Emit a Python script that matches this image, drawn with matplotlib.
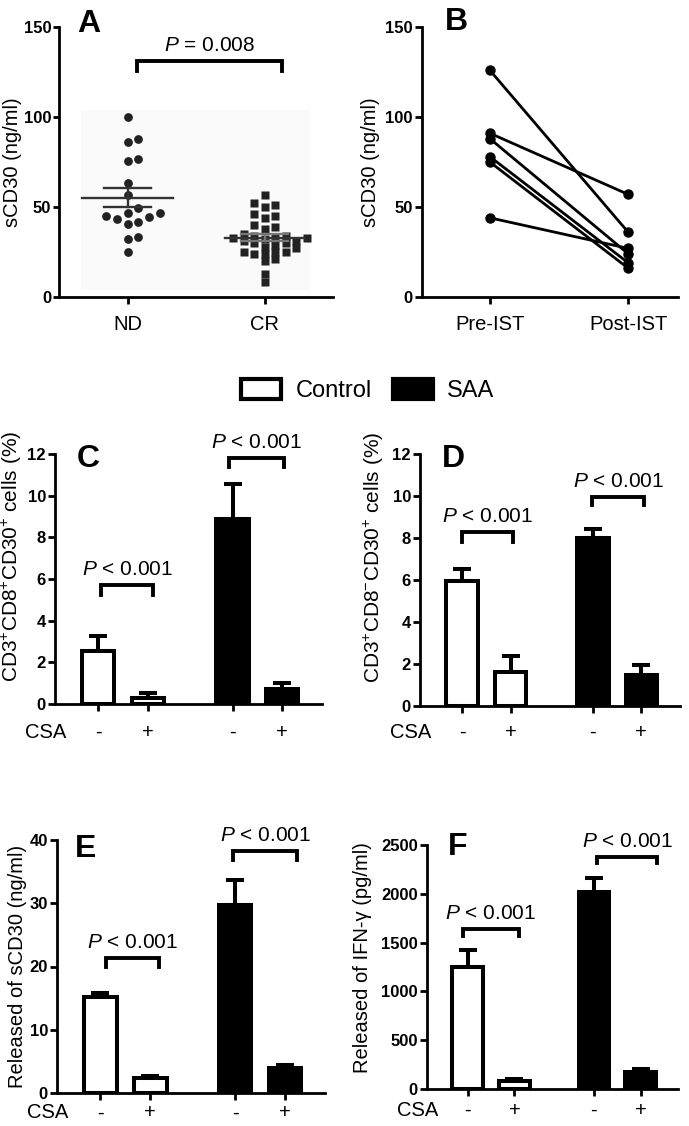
import numpy as np
import matplotlib
matplotlib.use('Agg')
import matplotlib.pyplot as plt
from matplotlib.patches import Patch, Rectangle

plt.rcParams['font.family'] = ['Liberation Sans', 'DejaVu Sans']
plt.rcParams['mathtext.fontset'] = 'custom'
plt.rcParams['mathtext.rm'] = 'Liberation Sans'
plt.rcParams['mathtext.it'] = 'Liberation Sans:italic'
plt.rcParams['mathtext.bf'] = 'Liberation Sans:bold'
plt.rcParams['axes.linewidth'] = 2

# === Data ====================================================================
# Panel A: sCD30 in newly diagnosed (ND) and complete response (CR) patients
nd_vals = [100, 87.8, 86.3, 76.7, 75.6, 63.2, 56.7, 49.3, 46.5, 46.5, 45.0,
           44.3, 43.3, 41.9, 40.6, 33.2, 32.1, 25.2]
cr_vals = [56.5, 52, 50, 51, 46, 44, 45, 40, 38, 39, 34, 33, 35, 34, 33, 33,
           32, 31, 31, 30, 30, 29, 28, 27, 25, 25, 24, 25, 24, 21, 20, 13, 8.5]
a_groups = ['ND', 'CR']

# Panel B: paired sCD30 before / after IST
pre_ist = [126, 91, 88, 78, 75, 44]
post_ist = [36, 57, 24, 19, 16, 27]
b_groups = ['Pre-IST', 'Post-IST']

# Panels C-F: Control (-/+ CSA), SAA (-/+ CSA)
csa_labels = ['-', '+', '-', '+']
bar_group = ['Control', 'Control', 'SAA', 'SAA']
c_mean = [2.55, 0.28, 8.86, 0.72]
c_err = [0.72, 0.25, 1.68, 0.30]
d_mean = [5.95, 1.62, 8.0, 1.49]
d_err = [0.57, 0.76, 0.41, 0.48]
e_mean = [15.2, 2.3, 29.8, 3.95]
e_err = [0.65, 0.4, 3.8, 0.5]
f_mean = [1245, 80, 2015, 175]
f_err = [175, 25, 150, 30]

p_a = '$P$ = 0.008'
p_bar = '$P$ < 0.001'

# =============================================================================
W, H = 689, 1126
fig = plt.figure(figsize=(W / 100, H / 100), dpi=100)


def px_axes(l, r, t, b):
    return fig.add_axes([l / W, 1 - b / H, (r - l) / W, (b - t) / H])


def style(ax, ylabel, lab_x, lab_y, letter, let_x, let_y, lab_size=14.5):
    for s in ['top', 'right']:
        ax.spines[s].set_visible(False)
    ax.tick_params(axis='both', width=2, length=5, labelsize=12, pad=1.5)
    for lbl in ax.get_yticklabels():
        lbl.set_fontweight('bold')
    ax.set_ylabel(ylabel, fontsize=lab_size)
    ax.yaxis.set_label_coords(lab_x, lab_y)
    ax.text(let_x, let_y, letter, transform=ax.transAxes, fontsize=23,
            fontweight='bold', ha='left', va='baseline')


def bracket(ax, x0, x1, ytop, ybot, txt):
    ax.plot([x0, x0, x1, x1], [ybot, ytop, ytop, ybot], color='black',
            lw=2.8, solid_joinstyle='miter', clip_on=False)
    ax.annotate(txt, xy=((x0 + x1) / 2, ytop), xytext=(0, 10),
                textcoords='offset pixels', ha='center', va='baseline',
                fontsize=15)


def swarm(vals, px_x, px_y, diam, step):
    vals = np.asarray(vals, float)
    offs = np.zeros(len(vals))
    placed = []
    cands = [0]
    for j in range(1, 20):
        cands += [j, -j]
    for i in np.argsort(vals):
        y = vals[i]
        for c in cands:
            x = c * step
            if all(np.hypot((x - px) * px_x, (y - py) * px_y) >= diam
                   for px, py in placed):
                break
        placed.append((x, y))
        offs[i] = x
    return offs


# --- Panel A -----------------------------------------------------------------
axA = px_axes(59, 333, 27, 297)
axA.add_patch(Rectangle((-0.34, 4), 1.67, 100, color='#fafafa', lw=0, zorder=0))
sx, sy = 137, 1.8
swarm_opts = [(nd_vals, 'o', 6.3, 10, 10.8), (cr_vals, 's', 5.6, 6.5, 10.5)]
for k, (vals, mk, ms, diam, step) in enumerate(swarm_opts):
    offs = swarm(vals, sx, sy, diam, step / sx)
    axA.plot(k + offs, vals, linestyle='none', marker=mk, ms=ms,
             color='#222222', mec='none', zorder=2)
    m = np.mean(vals)
    sem = np.std(vals, ddof=1) / np.sqrt(len(vals))
    hw = 0.33 if k == 0 else 0.29
    axA.plot([k - hw, k + hw], [m, m], color='#333333', lw=1.7, zorder=3)
    ecol = '#333333' if k == 0 else '#777777'
    axA.plot([k - 0.17, k + 0.17], [m + sem, m + sem], color=ecol, lw=1.7, zorder=3)
    axA.plot([k - 0.17, k + 0.17], [m - sem, m - sem], color=ecol, lw=1.7, zorder=3)
    axA.plot([k, k], [m - sem, m + sem], color=ecol, lw=1.7, zorder=3)
axA.set_xlim(-0.5, 1.5)
axA.set_ylim(0, 150)
axA.set_yticks([0, 50, 100, 150])
axA.set_xticks([0, 1])
axA.set_xticklabels(a_groups)
style(axA, 'sCD30 (ng/ml)', -0.135, 0.5, 'A', 0.066, 0.981)
axA.tick_params(axis='x', labelsize=14.5, pad=8)
axA.tick_params(axis='y', length=4)
bracket(axA, 0.07, 1.13, 131, 125.5, p_a)

# --- Panel B -----------------------------------------------------------------
axB = px_axes(422, 678, 27, 297)
for a, b in zip(pre_ist, post_ist):
    axB.plot([0, 1], [a, b], '-o', color='black', lw=2, ms=6.5)
axB.set_xlim(-0.49, 1.36)
axB.set_ylim(0, 150)
axB.set_yticks([0, 50, 100, 150])
axB.set_xticks([0, 1])
axB.set_xticklabels(b_groups)
style(axB, 'sCD30 (ng/ml)', -0.164, 0.5, 'B', 0.09, 0.989)
axB.tick_params(axis='x', labelsize=14.5, pad=8)

# --- Legend ------------------------------------------------------------------
handles = [Patch(facecolor='white', edgecolor='black', linewidth=3, label='Control'),
           Patch(facecolor='black', edgecolor='black', linewidth=3, label='SAA')]
fig.legend(handles=handles, loc='center', bbox_to_anchor=(0.534, 0.653),
           ncol=2, frameon=False, fontsize=17, handlelength=1.7,
           handleheight=0.9, handletextpad=0.6, columnspacing=0.9)

# --- Panels C-F ----------------------------------------------------------------
pos = [0, 1, 2.7, 3.7]
colors = ['white' if g == 'Control' else 'black' for g in bar_group]

panels = [
    # box (l, r, t, b), means, errs, ylim, yticks, ylabel, label coords, letter pos, brackets, csa offset, label size
    ((55, 322, 454, 704), c_mean, c_err, 12, np.arange(0, 13, 2),
     r'CD3$^{+}$CD8$^{+}$CD30$^{+}$ cells (%)', (-0.116, 0.59), 'C', (0.082, 0.948),
     [(0.06, 1.1, 5.72, 5.24), (2.63, 3.73, 11.83, 11.4)], 28, 15),
    ((420, 680, 454, 706), d_mean, d_err, 12, np.arange(0, 13, 2),
     r'CD3$^{+}$CD8$^{-}$CD30$^{+}$ cells (%)', (-0.131, 0.59), 'D', (0.085, 0.948),
     [(0.0, 1.06, 8.3, 7.82), (2.69, 3.76, 9.95, 9.57)], 26, 15),
    ((57, 325, 840, 1093), e_mean, e_err, 40, np.arange(0, 41, 10),
     'Released of sCD30 (ng/ml)', (-0.112, 0.5), 'E', (0.067, 0.933),
     [(0.12, 1.18, 21.3, 19.95), (2.66, 3.94, 38.2, 36.8)], 20, 14.5),
    ((427, 678, 845, 1089), f_mean, f_err, 2500, np.arange(0, 2501, 500),
     'Released of IFN-γ (pg/ml)', (-0.219, 0.537), 'F', (0.084, 0.959),
     [(-0.11, 1.09, 1636, 1567), (2.77, 4.06, 2372, 2311)], 21, 14.5),
]

for box, means, errs, ytop, yt, ylab, lc, letter, lp, brs, csa_dy, lsz in panels:
    ax = px_axes(*box)
    ax.errorbar(pos, means, yerr=[np.zeros(4), errs], fmt='none', ecolor='black',
                elinewidth=2.9, capsize=6.8, capthick=2.9, zorder=1)
    ax.bar(pos, means, width=0.65, color=colors, edgecolor='black',
           linewidth=2.9, zorder=2)
    ax.set_xlim(-0.87, 4.5)
    ax.set_ylim(0, ytop)
    ax.set_yticks(yt)
    ax.set_xticks(pos)
    ax.set_xticklabels([])
    style(ax, ylab, lc[0], lc[1], letter, lp[0], lp[1], lsz)
    for x0, x1, yb_top, yb_bot in brs:
        bracket(ax, x0, x1, yb_top, yb_bot, p_bar)
    for x, s in zip(pos, csa_labels):
        ax.annotate(s, xy=(x, 0), xycoords=('data', 'axes fraction'),
                    xytext=(0, -csa_dy), textcoords='offset pixels',
                    ha='center', va='center', fontsize=14.5)
    ax.annotate('CSA', xy=(0, 0), xycoords='axes fraction',
                xytext=(-9, -csa_dy), textcoords='offset pixels',
                ha='center', va='center', fontsize=14.5)

fig.savefig('out.png', dpi=100)
